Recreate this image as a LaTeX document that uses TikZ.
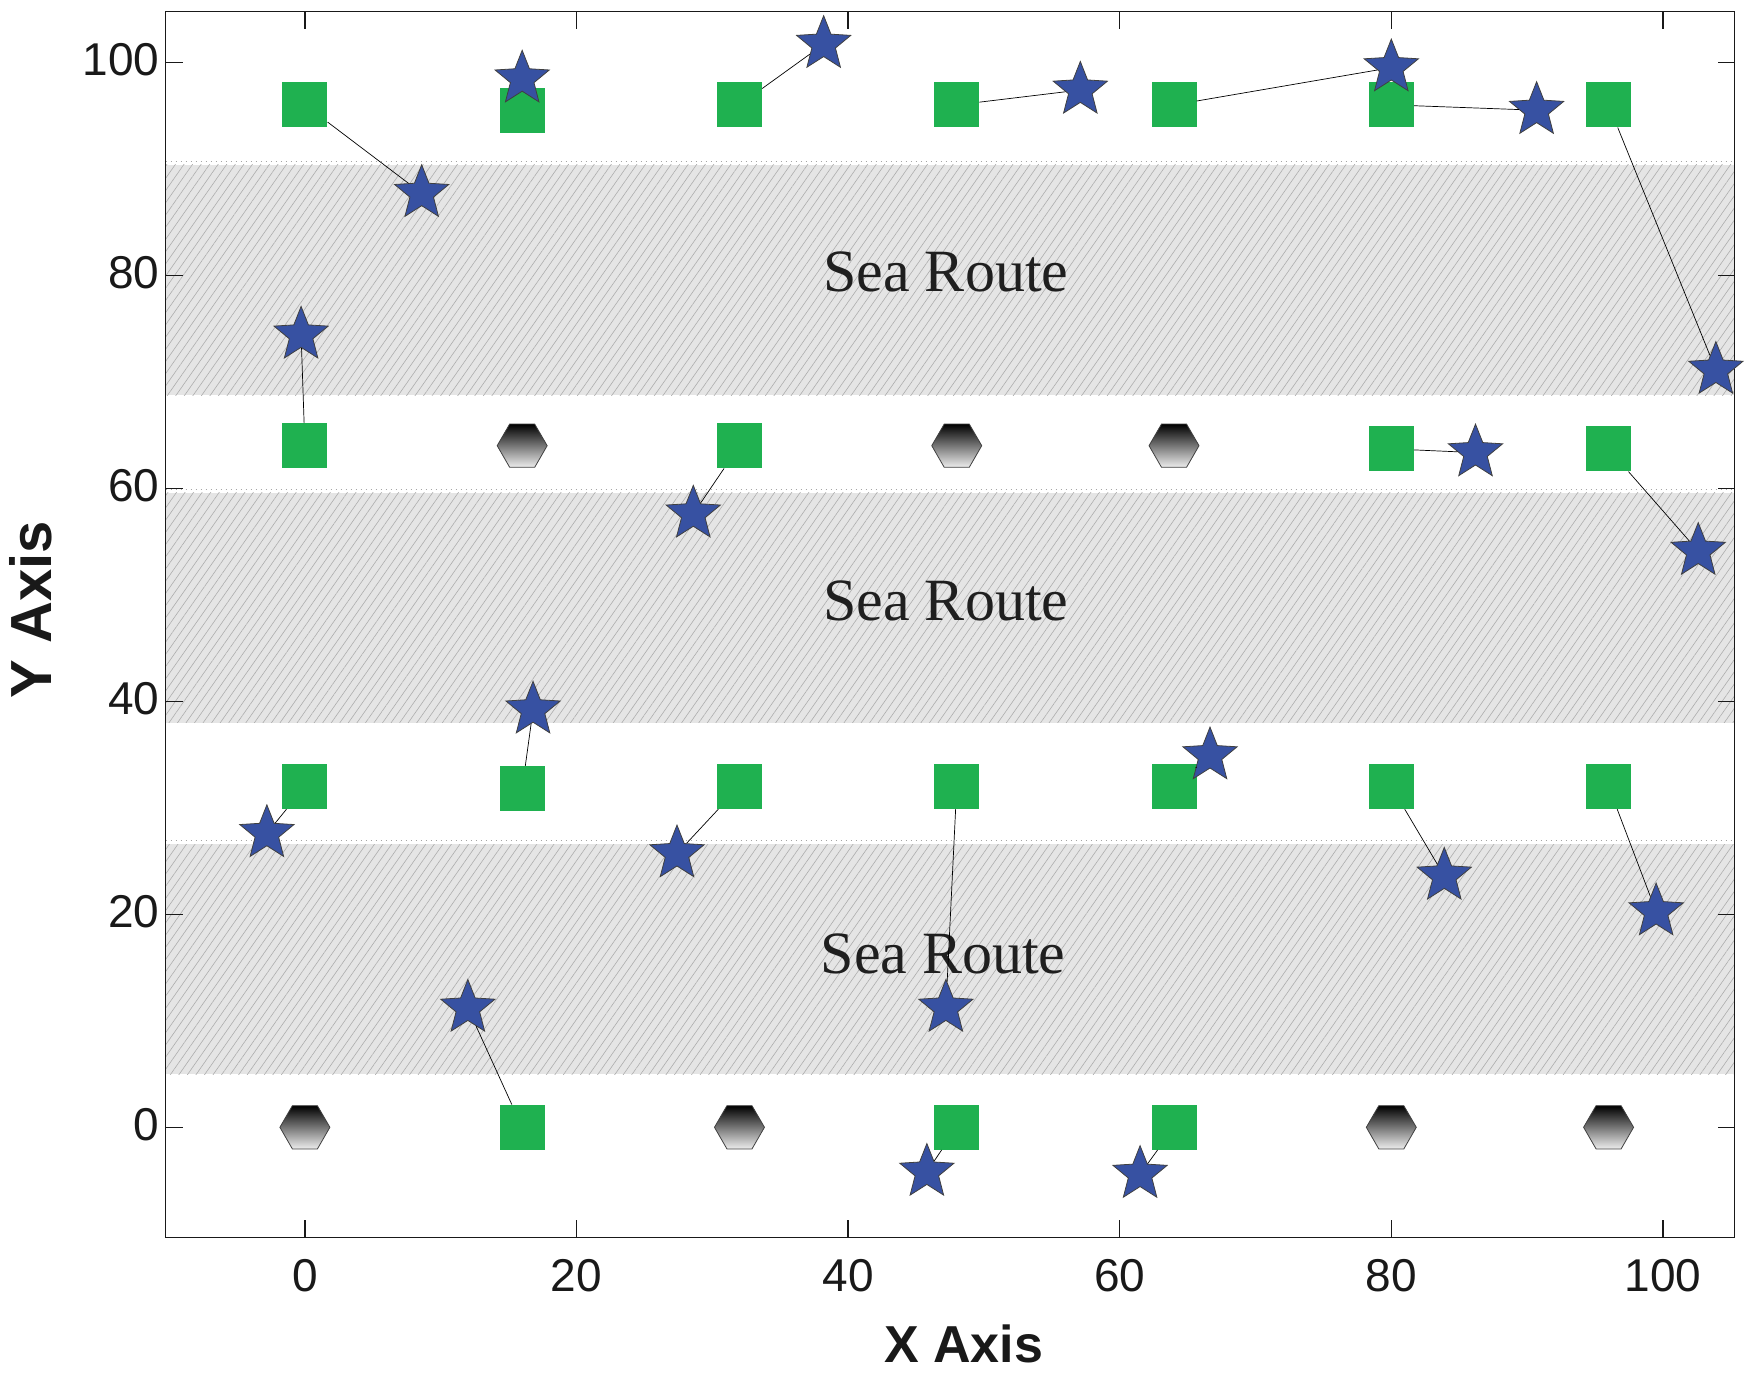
\documentclass[tikz,border=0pt]{standalone}
\usepackage{fontspec}
\setmainfont{Liberation Serif}
\setsansfont{Liberation Sans}
\usetikzlibrary{shapes.geometric,patterns.meta}
\definecolor{sqgreen}{RGB}{31,177,80}
\definecolor{stblue}{RGB}{55,81,162}
\tikzset{
  sq/.style={rectangle,fill=sqgreen,minimum size=45pt,inner sep=0},
  hexa/.style={regular polygon,regular polygon sides=6,minimum size=50pt,inner sep=0,
    top color=black,bottom color=white!93!black,draw=black!75,line width=0.8pt},
  st/.style={star,star points=5,star point ratio=2.3,minimum size=57pt,inner sep=0,
    fill=stblue,draw=black!75,line width=0.8pt},
  link/.style={draw=black,line width=0.7pt},
  bandfill/.style={fill=black!10},
  hatch/.style={pattern={Lines[angle=55,distance=7pt,line width=0.6pt]},pattern color=black!32},
  fuzz/.style={draw=black!35,line width=1.2pt,dash pattern=on 1pt off 4pt},
  sealabel/.style={font=\fontsize{60}{60}\selectfont,text=black!88,inner sep=0},
  ticklab/.style={font=\sffamily\fontsize{46}{46}\selectfont,text=black!90,inner sep=0},
  axtitle/.style={font=\sffamily\bfseries\fontsize{52}{52}\selectfont,text=black!90,inner sep=0},
  frameline/.style={line width=1.4pt,draw=black!90},
}
\begin{document}
\begin{tikzpicture}[x=13.58pt,y=10.65pt]
\useasboundingbox (-304.9pt,-251.7pt) rectangle ++(1755pt,1379pt);
% sea route bands
\foreach \lo/\hi in {4.96/27.0, 38.0/60.0, 68.75/90.8}{
  \fill[bandfill] (-10.25,\lo) rectangle (105.29,\hi-0.4);
  \fill[hatch] (-10.25,\lo) rectangle (105.29,\hi-0.4);
  \draw[fuzz] (-10.25,\hi-0.1) -- (105.29,\hi-0.1);
}
\node[sealabel] (sr1) at (47.2,80.3) {Sea Route};
\node[sealabel] (sr2) at (47.2,49.4) {Sea Route};
\node[sealabel] (sr3) at (47.0,16.3) {Sea Route};
% frame and ticks
\draw[frameline] (-10.25,-10.33) rectangle (105.29,104.75);
\foreach \v in {0,20,...,100}{
  \draw[frameline] (\v,-10.33) -- ++(0,17pt);
  \draw[frameline] (\v,104.75) -- ++(0,-17pt);
  \draw[frameline] (-10.25,\v) -- ++(17pt,0);
  \draw[frameline] (105.29,\v) -- ++(-17pt,0);
  \node[ticklab,anchor=east,xshift=-6pt,yshift=3pt] (yl\v) at (-10.25,\v) {\v};
  \node[ticklab] (xl\v) at (\v,-13.96) {\v};
}
\node[axtitle] (xt) at (48.5,-20.3) {X Axis};
\node[axtitle,font=\sffamily\bfseries\fontsize{58}{58}\selectfont,rotate=90] (yt) at (-20.2,48.6) {Y Axis};
% squares
\foreach \x/\y in {0/96,32/96,48/96,64/96,80/96,96/96,
                   0/64,32/64,
                   0/32,32/32,48/32,64/32,80/32,96/32,
                   16/0,48/0,64/0}{
  \node[sq] (q\x y\y) at (\x,\y) {};
}
\node[sq] (q16y96) at (16,95.5) {};
\node[sq] (q80y64) at (80,63.7) {};
\node[sq] (q96y64) at (96,63.7) {};
\node[sq] (q16y32) at (16,31.8) {};
% hexagons
\foreach \x/\y in {16/64,48/64,64/64,0/0,32/0,80/0,96/0}{
  \node[hexa] (h\x y\y) at (\x,\y) {};
}
% stars
\node[st] (st1) at (38.2,101.7) {};
\node[st] (st2) at (16.0,98.45) {};
\node[st] (st3) at (8.6,87.7) {};
\node[st] (st4) at (57.1,97.4) {};
\node[st] (st5) at (80.0,99.5) {};
\node[st] (st6) at (90.7,95.5) {};
\node[st] (st7) at (103.9,71.1) {};
\node[st] (st8) at (-0.28,74.4) {};
\node[st] (st9) at (28.6,57.6) {};
\node[st] (st10) at (86.2,63.35) {};
\node[st] (st11) at (102.6,54.1) {};
\node[st] (st12) at (16.8,39.2) {};
\node[st] (st13) at (-2.8,27.6) {};
\node[st] (st14) at (27.4,25.7) {};
\node[st] (st15) at (66.65,34.9) {};
\node[st] (st16) at (83.9,23.6) {};
\node[st] (st17) at (99.5,20.25) {};
\node[st] (st18) at (47.2,11.2) {};
\node[st] (st19) at (12.0,11.2) {};
\node[st] (st20) at (45.8,-4.2) {};
\node[st] (st21) at (61.5,-4.4) {};
% connectors
\foreach \a/\b in {q0y96/st3, q32y96/st1, q48y96/st4, q64y96/st5, q80y96/st6, q96y96/st7,
                   q0y64/st8, q32y64/st9, q80y64/st10, q96y64/st11,
                   q16y32/st12, q0y32/st13, q32y32/st14, q64y32/st15, q80y32/st16, q96y32/st17, q48y32/st18,
                   q16y0/st19, q48y0/st20, q64y0/st21}{
  \draw[link] (\a) -- (\b);
}
\end{tikzpicture}
\end{document}
